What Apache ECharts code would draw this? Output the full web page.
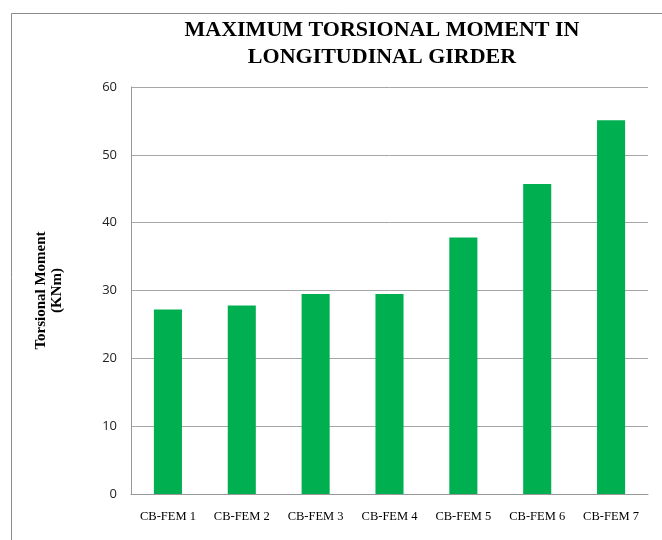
<!DOCTYPE html>
<html><head><meta charset="utf-8">
<script src="https://cdn.jsdelivr.net/npm/echarts@6/dist/echarts.min.js"></script>
<style>html,body{margin:0;padding:0;background:#fff}#c{width:662px;height:540px}</style>
</head><body><div id="c"></div>
<script>
const categories = ["CB-FEM 1","CB-FEM 2","CB-FEM 3","CB-FEM 4","CB-FEM 5","CB-FEM 6","CB-FEM 7"];
const torsionalMoment = [27.2, 27.8, 29.5, 29.5, 37.8, 45.7, 55.1];
const yTicks = [0, 10, 20, 30, 40, 50, 60];

const chart = echarts.init(document.getElementById('c'));
chart.setOption({
  animation: false,
  graphic: [{
    type: 'rect', left: 9, top: 11, shape: {x: 0, y: 0, width: 700, height: 600},
    style: {fill: 'none', stroke: '#8c8c8c', lineWidth: 1}, silent: true
  }],
  title: {
    text: 'MAXIMUM TORSIONAL MOMENT IN\nLONGITUDINAL GIRDER',
    left: 377, top: 12, textAlign: 'center',
    textStyle: {fontFamily: 'Liberation Serif', fontWeight: 'bold', fontSize: 22, color: '#000', lineHeight: 27}
  },
  grid: {left: 131, right: 14, top: 87, bottom: 46},
  xAxis: {
    type: 'category', data: categories,
    axisLine: {lineStyle: {color: '#999'}},
    axisTick: {show: false},
    axisLabel: {fontFamily: 'Liberation Serif', fontSize: 12.5, color: '#000', margin: 16}
  },
  yAxis: {
    type: 'value', min: yTicks[0], max: yTicks[yTicks.length-1], interval: 10,
    name: 'Torsional Moment\n(KNm)', nameLocation: 'middle', nameGap: 66, nameRotate: 90,
    nameTextStyle: {fontFamily: 'Liberation Serif', fontWeight: 'bold', fontSize: 15, color: '#000', lineHeight: 16},
    axisLine: {show: true, lineStyle: {color: '#999'}},
    axisTick: {show: false},
    axisLabel: {fontFamily: 'Open Sans', fontSize: 13, color: '#222', margin: 14},
    splitLine: {lineStyle: {color: '#a6a6a6'}}
  },
  series: [{
    type: 'bar', data: torsionalMoment, barWidth: '38%',
    itemStyle: {color: '#00b050'}
  }]
});
</script></body></html>
